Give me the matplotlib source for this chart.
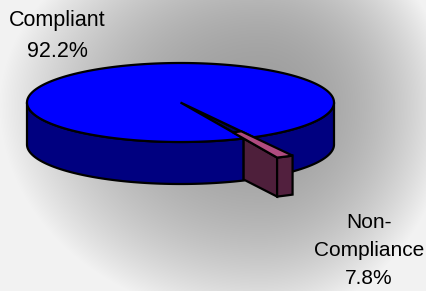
import numpy as np
import matplotlib
matplotlib.use('Agg')
import matplotlib.pyplot as plt
from matplotlib.patches import Polygon

# data
labels = ['Compliant', 'Non-\nCompliance']
values = [92.2, 7.8]

# 3d pie layout (pixel space)
cx, cy = 180.5, 102.5
RX, RY = 153.5, 39.5
depth = 42
slice_start = 61.5      # screen angle of the small slice's far edge
angle_squash = 0.15     # excel's odd perspective makes the wedge look thin
explode_in, explode_out = 0.83, 1.53

plt.rcParams['font.family'] = ['Liberation Sans', 'DejaVu Sans']

fig = plt.figure(figsize=(4.27, 2.91), dpi=100)
ax = fig.add_axes([0, 0, 1, 1])
ax.set_xlim(0, 427)
ax.set_ylim(291, 0)
ax.axis('off')

# gray "from center" background
xx, yy = np.meshgrid(np.arange(427) + 0.5, np.arange(291) + 0.5)
dx = np.where(xx < 260, (xx - 260) / 260, (xx - 260) / 190)
dy = np.where(yy < 105, (yy - 105) / 190, (yy - 105) / 215)
r = np.clip(np.sqrt(dx**2 + dy**2), 0, 1)
shade = (158 + 84 * r**2.1) / 255
ax.imshow(np.dstack([shade] * 3), extent=(0, 427, 291, 0), zorder=0)


def pt(phi, rad=1.0, dz=0):
    a = np.radians(phi)
    return cx + rad * RX * np.cos(a), cy + rad * RY * np.sin(a) + dz


def arc(a0, a1, rad=1.0, dz=0, n=80):
    return [pt(a, rad, dz) for a in np.linspace(a0, a1, n)]


total = sum(values)
phi1 = slice_start
phi2 = phi1 + 360 * values[1] / total * angle_squash
lw = 1.6
ec = 'black'

# big slice side walls (front half only)
right_wall = arc(0, phi1) + arc(phi1, 0, dz=depth)
left_wall = arc(phi2, 180) + arc(180, phi2, dz=depth)
ax.add_patch(Polygon(right_wall, closed=True, fc='#000080', ec=ec, lw=lw, zorder=2))
ax.add_patch(Polygon(left_wall, closed=True, fc='#000080', ec=ec, lw=lw, zorder=2))

# gap left by the small slice
gap = [(cx, cy)] + arc(phi1, phi2)
ax.add_patch(Polygon(gap, closed=True, fc='#000060', ec=ec, lw=lw, zorder=3))

# big slice top
top = [(cx, cy)] + arc(phi2, phi1 + 360, n=300)
ax.add_patch(Polygon(top, closed=True, fc='#0000FF', ec=ec, lw=lw, zorder=4))

# small slice, pulled out
s_top = [pt(phi1, explode_in)] + arc(phi1, phi2, explode_out, n=10) + [pt(phi2, explode_in)]
s_front = [pt(phi2, 1.0), pt(phi2, explode_out), pt(phi2, explode_out, depth - 3), pt(phi2, 1.0, depth - 1)]
s_outer = arc(phi2, phi1, explode_out, n=10) + arc(phi1, phi2, explode_out, depth - 3, n=10)
ax.add_patch(Polygon(s_front, closed=True, fc='#4e1f3b', ec=ec, lw=lw, zorder=5))
ax.add_patch(Polygon(s_outer, closed=True, fc='#52203e', ec=ec, lw=lw, zorder=5))
ax.add_patch(Polygon(s_top, closed=True, fc='#b04b80', ec=ec, lw=lw, zorder=6))

# labels
pcts = [f'{v:.1f}%' for v in values]
ax.text(57, 36, f'{labels[0]}\n{pcts[0]}', ha='center', va='center',
        fontsize=15.5, linespacing=1.6, zorder=7)
ax.text(369, 251, f'{labels[1]}\n{pcts[1]}', ha='center', va='center',
        fontsize=15, linespacing=1.6, zorder=7)

fig.savefig('out.png', dpi=100)
